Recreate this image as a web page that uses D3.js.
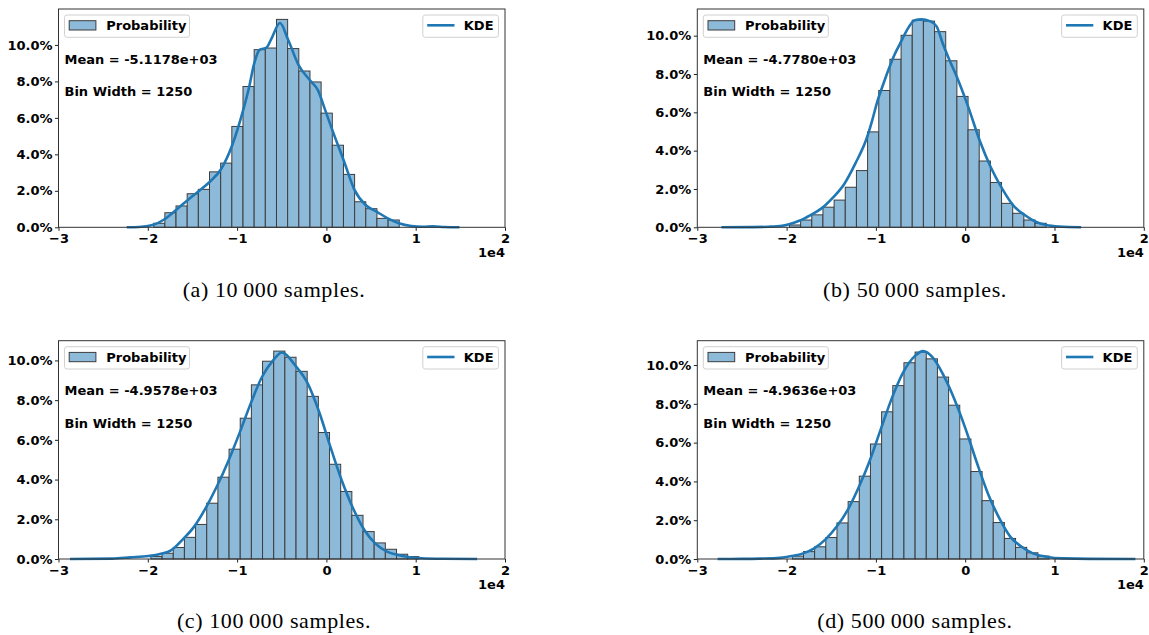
<!DOCTYPE html>
<html>
<head>
<meta charset="utf-8">
<script src="https://cdn.jsdelivr.net/npm/d3@7"></script>
<style>
  body { margin: 0; background: #fff; }
  svg { display: block; }
  .caption { font-family: "Liberation Serif", "DejaVu Serif", serif; font-size: 22px; letter-spacing: 0.6px; fill: #000; }
  .lbl { font-family: "DejaVu Sans", sans-serif; font-weight: bold; font-size: 13px; fill: #000; }
</style>
</head>
<body>
<svg id="chart"></svg>
<script>
// Values (x in raw units, probabilities in percent)
const captions = ["(a) 10\u2009000 samples.", "(b) 50\u2009000 samples.", "(c) 100\u2009000 samples.", "(d) 500\u2009000 samples."];
const means = ["-5.1178e+03", "-4.7780e+03", "-4.9578e+03", "-4.9636e+03"];
const binWidth = 1250;
const binStart = [-19340, -19680, -19650, -19360];

const probA = [0.22, 0.80, 1.17, 1.84, 2.08, 3.04, 3.52, 5.53, 7.72, 9.74, 9.83, 11.40, 9.80, 8.57, 7.97, 6.26, 4.50, 2.90, 1.40, 1.02, 0.49, 0.40];
const probB = [0.12, 0.38, 0.65, 1.05, 1.42, 2.09, 2.96, 4.98, 7.14, 8.77, 10.02, 10.81, 10.76, 10.21, 8.69, 6.83, 5.09, 3.46, 2.34, 1.25, 0.73, 0.38, 0.21];
const probC = [0.13, 0.29, 0.58, 1.09, 1.74, 2.81, 4.12, 5.53, 7.09, 8.77, 9.96, 10.47, 10.16, 9.45, 8.19, 6.37, 4.77, 3.40, 2.20, 1.38, 0.81, 0.49, 0.24, 0.12];
const probD = [0.15, 0.38, 0.63, 1.11, 1.86, 2.96, 4.27, 5.93, 7.59, 8.94, 10.12, 10.67, 10.32, 9.38, 7.93, 6.19, 4.51, 3.01, 1.88, 1.06, 0.60, 0.32, 0.15];

// KDE curves, sampled by eye along the drawn line
const kdeXA = [-22360, -21000, -20000, -19300, -18265, -16770, -15540, -14280, -13050, -11820, -10550, -9320, -8690, -8090, -7460, -6710, -6150, -5200, -4300, -3100, -1840, -940, -195, 665, 1930, 3160, 4390, 5650, 6880, 8110, 9500, 10800, 11900, 13200, 14900];
const kdeYA = [0, 0.02, 0.07, 0.15, 0.40, 0.98, 1.49, 1.99, 2.50, 3.17, 4.50, 6.42, 7.61, 8.98, 9.74, 9.85, 10.35, 11.2, 10.3, 8.88, 8.06, 7.51, 6.51, 5.33, 3.68, 2.04, 1.22, 0.85, 0.49, 0.22, 0.07, 0.03, 0.05, 0.02, 0];
const kdeXB = [-27300, -24000, -22000, -20500, -19820, -18590, -17320, -16050, -14790, -13560, -12280, -11050, -10420, -9820, -9190, -8560, -7890, -7330, -6580, -5650, -4900, -3970, -3220, -2480, -1730, -910, 360, 1620, 2850, 4120, 5350, 6660, 7890, 9080, 10500, 12980];
const kdeYB = [0, 0.01, 0.03, 0.08, 0.15, 0.34, 0.64, 1.0, 1.56, 2.25, 3.35, 4.62, 5.57, 6.6, 7.45, 8.26, 9.03, 9.55, 10.24, 10.80, 10.85, 10.76, 10.50, 9.55, 8.69, 7.82, 6.26, 4.53, 3.15, 2.03, 1.16, 0.64, 0.29, 0.12, 0.04, 0];
const kdeXC = [-28710, -24000, -21980, -19930, -18620, -17350, -16080, -14810, -13540, -12270, -11000, -9730, -8460, -7190, -5920, -5000, -3410, -2110, -830, 440, 1700, 2980, 4250, 5520, 6790, 8060, 9330, 10600, 13000, 16880];
const kdeYC = [0, 0.02, 0.08, 0.15, 0.25, 0.45, 0.99, 1.63, 2.55, 3.65, 4.91, 6.34, 7.85, 9.19, 10.03, 10.40, 9.70, 8.86, 7.43, 5.66, 3.98, 2.56, 1.46, 0.76, 0.37, 0.20, 0.09, 0.04, 0.01, 0];
const kdeXD = [-27730, -25000, -22990, -20750, -19440, -18140, -16910, -15640, -14410, -13180, -11910, -10680, -9450, -8190, -6960, -5650, -4720, -3600, -2480, -1210, 50, 1290, 2550, 3830, 5060, 6320, 7580, 9080, 11000, 14000, 19060];
const kdeYD = [0, 0.005, 0.02, 0.06, 0.15, 0.29, 0.55, 1.01, 1.66, 2.51, 3.71, 5.08, 6.70, 8.32, 9.61, 10.46, 10.72, 10.37, 9.52, 8.24, 6.70, 4.99, 3.37, 2.09, 1.14, 0.63, 0.29, 0.12, 0.03, 0.005, 0];

const xTicks = [-30000, -20000, -10000, 0, 10000, 20000];
const yTicks = [0, 2, 4, 6, 8, 10];
const xDomain = [-30000, 20000];

const probs = [probA, probB, probC, probD];
const kdeX = [kdeXA, kdeXB, kdeXC, kdeXD];
const kdeY = [kdeYA, kdeYB, kdeYC, kdeYD];

// Layout of the 2x2 grid
const width = 1149;
const height = 635;
const plotW = 446.5;
const plotH = 218.3;
const lefts = [58.5, 697.3];
const tops = [9, 340.7];
const captionX = [274, 915];
const captionY = [296.5, 627.5];

const barFill = "#8ebad9";
const barEdge = "#3d3d3d";
const kdeColor = "#1f77b4";

const svg = d3.select("#chart")
    .attr("width", width)
    .attr("height", height);

svg.append("rect")
    .attr("width", width)
    .attr("height", height)
    .attr("fill", "#fff");

function drawPanel(i) {
  const col = i % 2, row = Math.floor(i / 2);
  const left = lefts[col], top = tops[row];
  const prob = probs[i];
  const edges = prob.map((_, k) => binStart[i] + k * binWidth);

  const g = svg.append("g")
      .attr("transform", `translate(${left}, ${top})`);

  const x = d3.scaleLinear().domain(xDomain).range([0, plotW]);
  const yMax = Math.max(d3.max(prob), d3.max(kdeY[i])) * 1.05;
  const y = d3.scaleLinear().domain([0, yMax]).range([plotH, 0]);

  // bars
  g.selectAll(".bar")
    .data(prob)
    .enter()
    .append("rect")
    .attr("class", "bar")
    .attr("x", (d, k) => x(edges[k]))
    .attr("y", d => y(d))
    .attr("width", (d, k) => x(edges[k] + binWidth) - x(edges[k]))
    .attr("height", d => y(0) - y(d))
    .attr("fill", barFill)
    .attr("stroke", barEdge)
    .attr("stroke-width", 1);

  // kde line
  const line = d3.line()
      .x(k => x(kdeX[i][k]))
      .y(k => y(kdeY[i][k]))
      .curve(d3.curveMonotoneX);

  g.append("path")
    .attr("d", line(d3.range(kdeX[i].length)))
    .attr("fill", "none")
    .attr("stroke", kdeColor)
    .attr("stroke-width", 2.6);

  // axes
  const xAxis = d3.axisBottom(x)
      .tickValues(xTicks)
      .tickFormat(d => d3.format("d")(d / 10000))
      .tickSize(3.5)
      .tickPadding(3);
  const yAxis = d3.axisLeft(y)
      .tickValues(yTicks)
      .tickFormat(d => d.toFixed(1) + "%")
      .tickSize(3.5)
      .tickPadding(2.5);

  [g.append("g").attr("transform", `translate(0, ${plotH})`).call(xAxis),
   g.append("g").call(yAxis)].forEach(ax => {
    ax.select(".domain").remove();
    ax.selectAll("line").attr("stroke", "#222");
    ax.selectAll("text")
      .attr("font-family", "DejaVu Sans, sans-serif")
      .attr("font-weight", "bold")
      .attr("font-size", 13)
      .attr("fill", "#000");
  });

  // frame
  g.append("rect")
    .attr("width", plotW)
    .attr("height", plotH)
    .attr("fill", "none")
    .attr("stroke", "#333")
    .attr("stroke-width", 1);

  g.append("text")
    .attr("class", "lbl")
    .attr("x", plotW)
    .attr("y", plotH + 30)
    .attr("text-anchor", "end")
    .text("1e4");

  // annotations
  g.append("text")
    .attr("class", "lbl")
    .attr("x", 6)
    .attr("y", 54.7)
    .text(`Mean = ${means[i]}`);
  g.append("text")
    .attr("class", "lbl")
    .attr("x", 6)
    .attr("y", 87.2)
    .text(`Bin Width = ${binWidth}`);

  // legends
  const leg1 = g.append("g").attr("transform", "translate(6, 6)");
  leg1.append("rect")
    .attr("width", 125).attr("height", 22.3).attr("rx", 2.5)
    .attr("fill", "#fff").attr("fill-opacity", 0.8).attr("stroke", "#d0d0d0");
  leg1.append("rect")
    .attr("x", 4.7).attr("y", 5.7).attr("width", 26.7).attr("height", 9.3)
    .attr("fill", barFill).attr("stroke", barEdge);
  leg1.append("text")
    .attr("class", "lbl").attr("x", 41.7).attr("y", 15.4).text("Probability");

  const leg2 = g.append("g").attr("transform", `translate(${plotW - 6.5 - 75.7}, 6)`);
  leg2.append("rect")
    .attr("width", 75.7).attr("height", 22.3).attr("rx", 2.5)
    .attr("fill", "#fff").attr("fill-opacity", 0.8).attr("stroke", "#d0d0d0");
  leg2.append("line")
    .attr("x1", 4.4).attr("x2", 31.7).attr("y1", 10.3).attr("y2", 10.3)
    .attr("stroke", kdeColor).attr("stroke-width", 2.6);
  leg2.append("text")
    .attr("class", "lbl").attr("x", 41).attr("y", 15.4).text("KDE");

  svg.append("text")
    .attr("class", "caption")
    .attr("x", captionX[col])
    .attr("y", captionY[row])
    .attr("text-anchor", "middle")
    .text(captions[i]);
}

d3.range(4).forEach(drawPanel);
</script>
</body>
</html>
